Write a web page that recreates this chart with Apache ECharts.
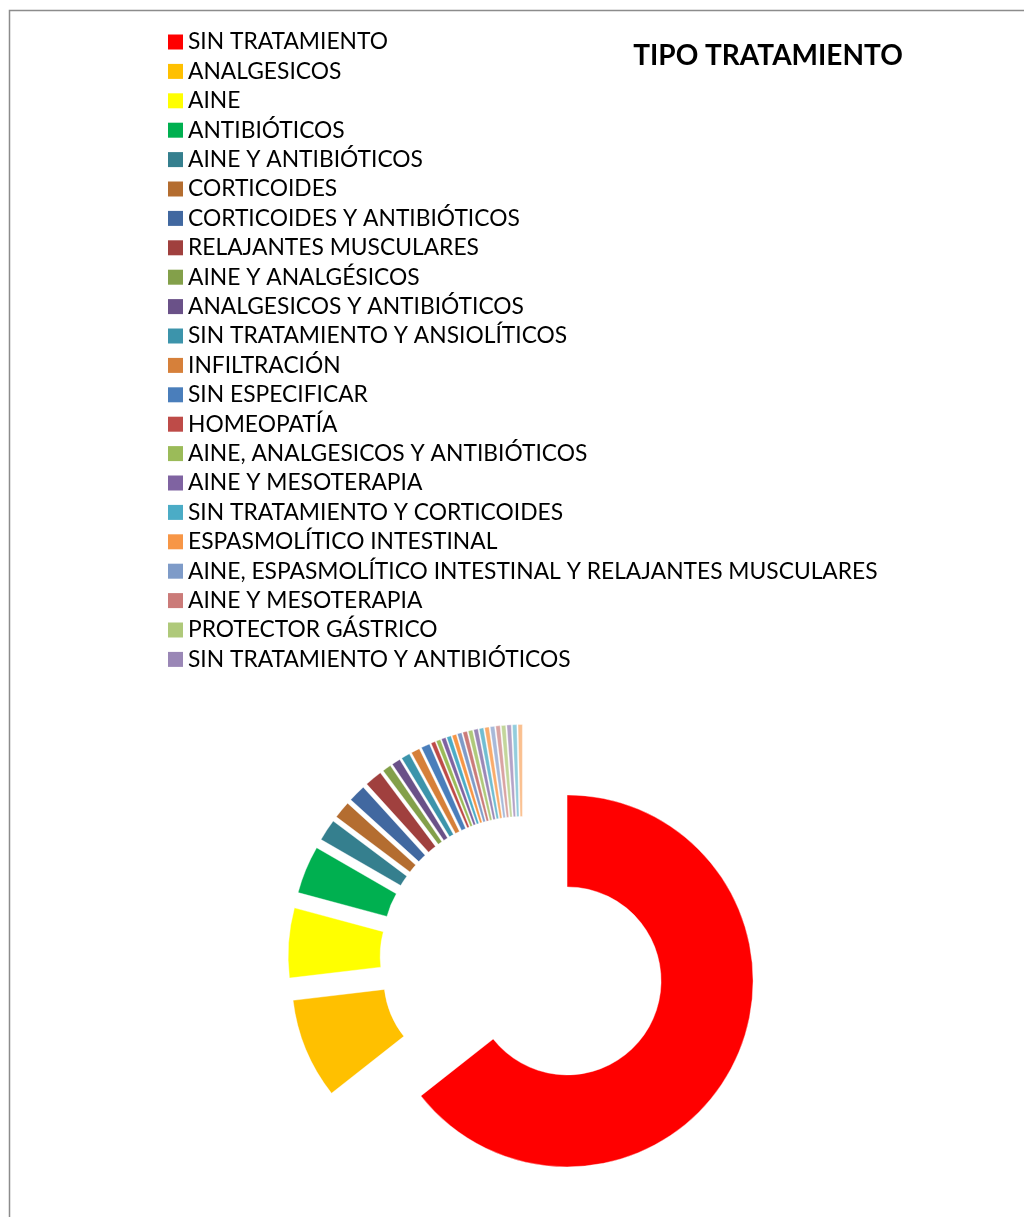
<!DOCTYPE html>
<html>
<head>
<meta charset="utf-8">
<script src="https://cdn.jsdelivr.net/npm/echarts@6/dist/echarts.min.js"></script>
<style>
html,body{margin:0;padding:0;background:#fff;}
#chart{width:1024px;height:1217px;}
</style>
</head>
<body>
<div id="chart"></div>
<script>
const chartTitle = 'TIPO TRATAMIENTO';
const categories = [
  'SIN TRATAMIENTO',
  'ANALGESICOS',
  'AINE',
  'ANTIBIÓTICOS',
  'AINE Y ANTIBIÓTICOS',
  'CORTICOIDES',
  'CORTICOIDES Y ANTIBIÓTICOS',
  'RELAJANTES MUSCULARES',
  'AINE Y ANALGÉSICOS',
  'ANALGESICOS Y ANTIBIÓTICOS',
  'SIN TRATAMIENTO Y ANSIOLÍTICOS',
  'INFILTRACIÓN',
  'SIN ESPECIFICAR',
  'HOMEOPATÍA',
  'AINE, ANALGESICOS Y ANTIBIÓTICOS',
  'AINE Y MESOTERAPIA',
  'SIN TRATAMIENTO Y CORTICOIDES',
  'ESPASMOLÍTICO INTESTINAL',
  'AINE, ESPASMOLÍTICO INTESTINAL Y RELAJANTES MUSCULARES',
  'AINE Y MESOTERAPIA ',
  'PROTECTOR GÁSTRICO',
  'SIN TRATAMIENTO Y ANTIBIÓTICOS',
  'P23', 'P24', 'P25', 'P26', 'P27', 'P28', 'P29', 'P30'
];
const values = [170, 23, 16, 11, 5, 4, 4, 4, 2, 2, 2, 2, 2,
  1, 1, 1, 1, 1, 1, 1, 1, 1, 1, 1, 1, 1, 1, 1, 1, 1];
const colors = [
  '#FF0000', '#FFC000', '#FFFF00', '#00B050', '#357F8E', '#B46D30',
  '#4168A0', '#A0403E', '#83A04A', '#6A5188', '#3C94AB', '#D6803A',
  '#4A7EBB', '#BE4B48', '#9BBB59', '#7F63A1', '#4BACC6', '#F79646',
  '#7E9BC8', '#CB7B79', '#AFC97A', '#9A87B6', '#70BDD1', '#F9AB6B',
  '#A7B9D9', '#D9A3A2', '#C3D69B', '#B3A2C7', '#93CDDD', '#FAC090'
];
const legendCount = 22;

const chart = echarts.init(document.getElementById('chart'), null, {renderer: 'canvas'});
const data = values.map((v, i) => ({
  name: categories[i],
  value: v,
  selected: true,
  itemStyle: {color: colors[i]}
}));
chart.setOption({
  animation: false,
  backgroundColor: '#ffffff',
  title: {
    text: chartTitle,
    left: 763,
    top: 37,
    textAlign: 'center',
    textStyle: {fontFamily: 'Lato', fontWeight: 'bold', fontSize: 28, color: '#000'}
  },
  legend: {
    orient: 'vertical',
    left: 168,
    top: 30,
    padding: 0,
    data: categories.slice(0, legendCount),
    icon: 'rect',
    itemWidth: 15,
    itemHeight: 15,
    itemGap: 5.4,
    selectedMode: false,
    itemStyle: {borderWidth: 0},
    textStyle: {fontFamily: 'Lato', fontSize: 22.8, lineHeight: 24, color: '#000', padding: [0, 0, 0, 0]}
  },
  graphic: [{
    type: 'rect',
    shape: {x: 9.5, y: 10.5, width: 1200, height: 1400},
    style: {fill: null, stroke: '#8c8c8c', lineWidth: 1.5},
    silent: true
  }],
  series: [{
    type: 'pie',
    center: [523, 959.5],
    radius: [94, 186],
    startAngle: 90,
    clockwise: true,
    selectedMode: 'multiple',
    selectedOffset: 49,
    avoidLabelOverlap: false,
    label: {show: false},
    labelLine: {show: false},
    emphasis: {disabled: true},
    itemStyle: {borderColor: '#ffffff', borderWidth: 0.4},
    data: data
  }]
});
</script>
</body>
</html>
